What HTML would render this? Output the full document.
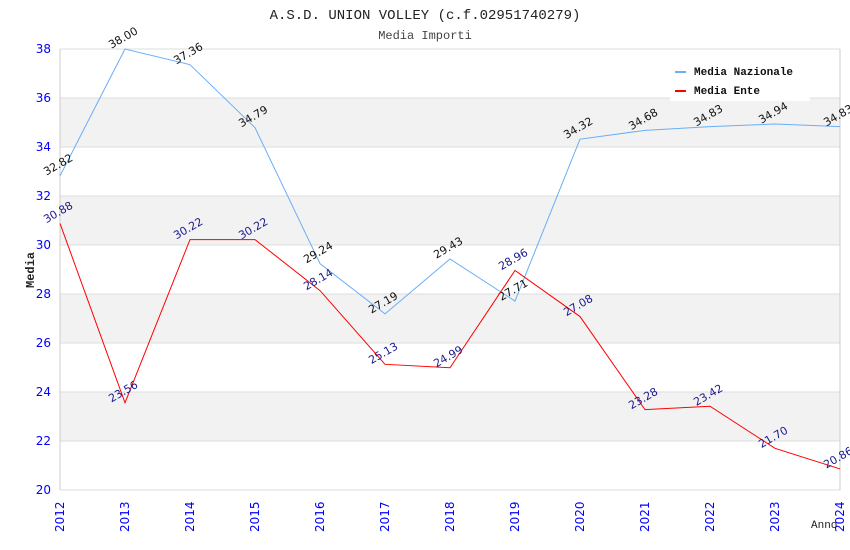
<!DOCTYPE html>
<html><head><meta charset="utf-8"><style>
body{margin:0;background:#fff}
svg{display:block;font-family:"DejaVu Sans","Liberation Sans",sans-serif}
</style></head><body>
<svg id="c" width="850" height="550">
<text x="425" y="19" text-anchor="middle" font-family="Liberation Mono,monospace" font-size="14" fill="#222">A.S.D. UNION VOLLEY (c.f.02951740279)</text>
<text x="425" y="39" text-anchor="middle" font-family="Liberation Mono,monospace" font-size="12" fill="#444">Media Importi</text>
<g id="grid"></g><g id="axes"></g><g id="series"></g>
<text transform="translate(34,270) rotate(-90)" text-anchor="middle" font-family="Liberation Mono,monospace" font-size="12" font-weight="bold" fill="#222">Media</text>
<text x="811" y="528" font-family="Liberation Mono,monospace" font-size="11" fill="#222">Anno</text>
<g>
<rect x="670" y="58" width="140" height="43" fill="#fff"/>
<g><rect x="675" y="71" width="11" height="2" fill="#6aaef5"/><text x="694" y="75" font-family="Liberation Mono,monospace" font-size="11" font-weight="bold" fill="#111">Media Nazionale</text></g>
<g><rect x="675" y="90" width="11" height="2" fill="#f00"/><text x="694" y="94" font-family="Liberation Mono,monospace" font-size="11" font-weight="bold" fill="#111">Media Ente</text></g>
</g>
</svg>
<script>
const years=[2012,2013,2014,2015,2016,2017,2018,2019,2020,2021,2022,2023,2024];
const nazionale=[32.82,38.00,37.36,34.79,29.24,27.19,29.43,27.71,34.32,34.68,34.83,34.94,34.83];
const ente=[30.88,23.56,30.22,30.22,28.14,25.13,24.99,28.96,27.08,23.28,23.42,21.70,20.86];
const yTicks=[20,22,24,26,28,30,32,34,36,38];
const NS="http://www.w3.org/2000/svg";
const X0=60,X1=840,Y0=490,Y1=49,YMIN=20,YMAX=38;
const xs=i=>X0+(X1-X0)*i/(years.length-1);
const ys=v=>Y0-(v-YMIN)/(YMAX-YMIN)*(Y0-Y1);
function el(t,a,p){const e=document.createElementNS(NS,t);for(const k in a)e.setAttribute(k,a[k]);p.appendChild(e);return e;}
const grid=document.getElementById('grid'),axes=document.getElementById('axes'),ser=document.getElementById('series');
for(let i=0;i<yTicks.length-1;i++){
 if(i%2===1){const b=el('rect',{x:X0,y:ys(yTicks[i+1]),width:X1-X0,height:ys(yTicks[i])-ys(yTicks[i+1]),fill:'#f2f2f2'},grid);
 
 }
}
yTicks.forEach(t=>{
 const l=el('line',{x1:X0,x2:X1,y1:ys(t),y2:ys(t),stroke:'#ddd'},grid);
 
 
 const tx=el('text',{x:X0-9,y:ys(t)+4,'text-anchor':'end','font-size':12,fill:'#00f'},axes);
 tx.textContent=t.toFixed(0);
 
 
});
el('line',{x1:X0,x2:X0,y1:Y1,y2:Y0,stroke:'#ccc'},axes);
el('line',{x1:X1,x2:X1,y1:Y1,y2:Y0,stroke:'#ccc'},axes);
years.forEach((y,i)=>{
 const tx=el('text',{transform:`translate(${xs(i)+4},${Y0+42}) rotate(-90)`,'font-size':12,fill:'#00f'},axes);
 tx.textContent=y;
 
 
});
function series(vals,color,lblColor,name){
 const p=el('polyline',{points:vals.map((v,i)=>xs(i)+','+ys(v)).join(' '),fill:'none',stroke:color,'stroke-width':1},ser);
 
 
 vals.forEach((v,i)=>{
  const t=el('text',{transform:`translate(${xs(i)},${ys(v)-8}) rotate(-30)`,'text-anchor':'middle','font-size':11,fill:lblColor},ser);
  t.textContent=v.toFixed(2);
  
  
 });
}
series(nazionale,'#6aaef5','#111','nazionale');
series(ente,'#f00','#1a1a8c','ente');
</script>
</body></html>
